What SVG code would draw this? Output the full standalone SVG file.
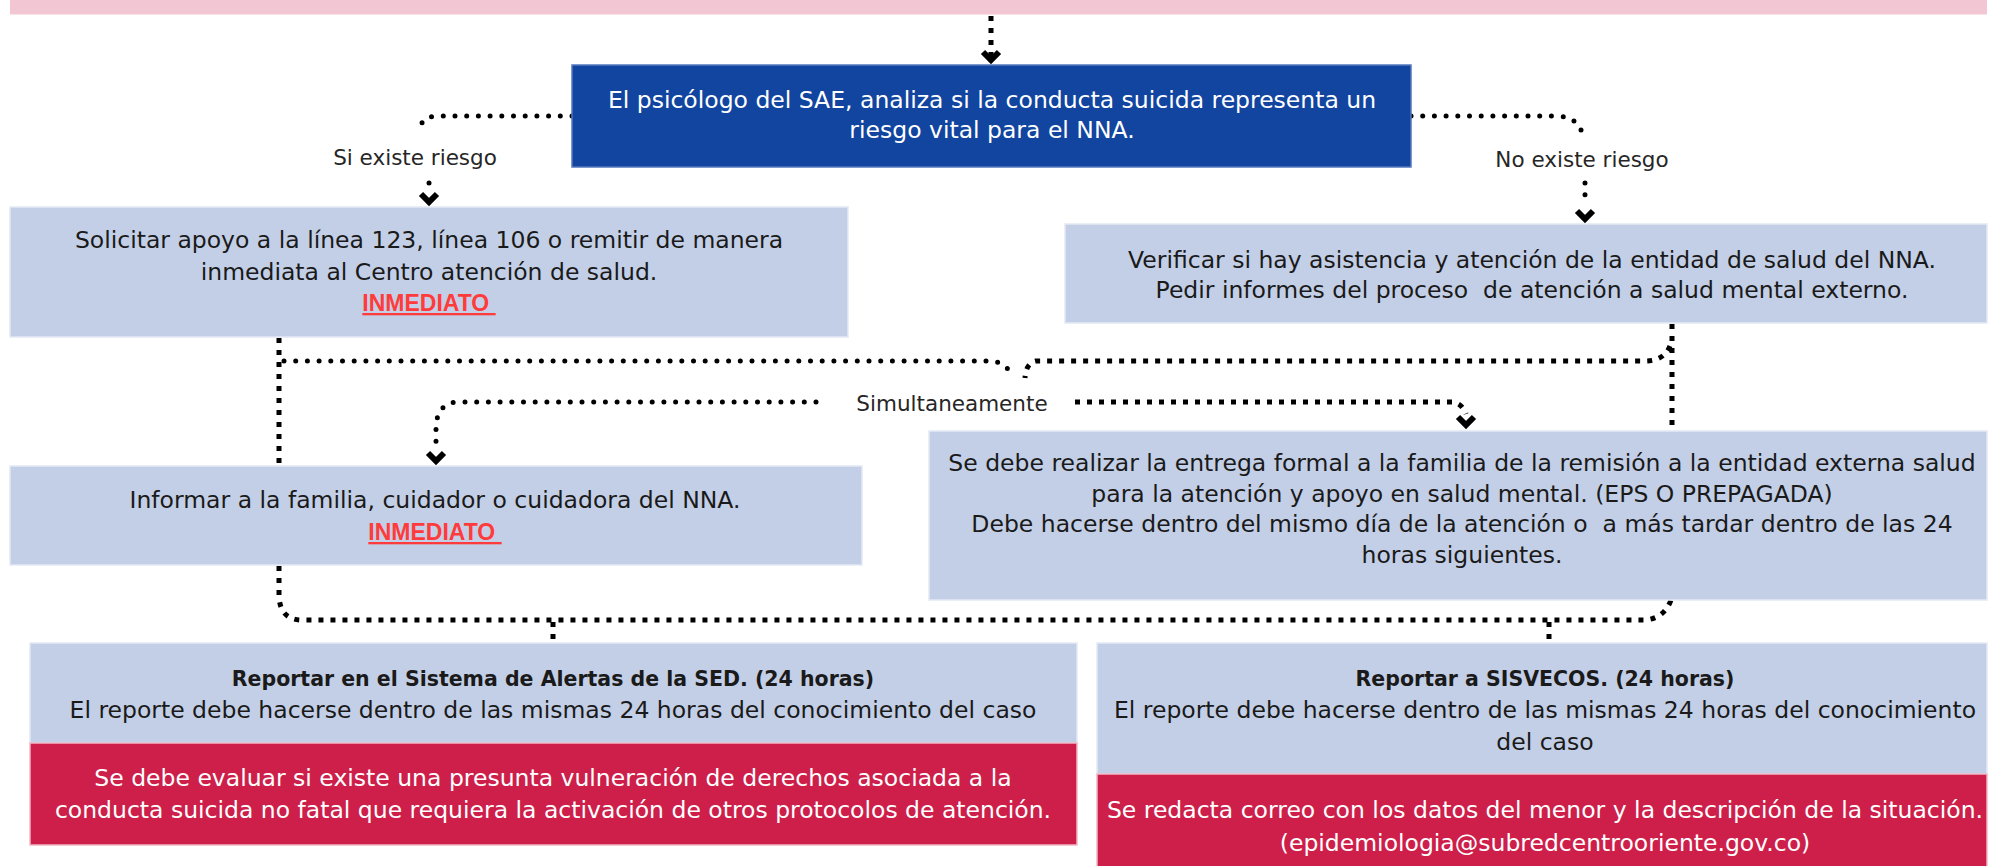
<svg xmlns="http://www.w3.org/2000/svg" xmlns:xlink="http://www.w3.org/1999/xlink" width="1990" height="866" viewBox="0 0 1990 866">
<style>
text{font-family:"DejaVu Sans","Liberation Sans",Arial,sans-serif;font-size:23.5px;text-anchor:middle;fill:#1a1a1a}
.w{fill:#ffffff}
.b{font-weight:bold;font-size:20.5px}
.lbl{font-size:21.5px;fill:#262626}
.red{font-family:"Liberation Sans",Arial,sans-serif;font-size:23px;fill:#ff3b3b;font-weight:bold;text-decoration:underline}
.lb{fill:#c3cfe6;stroke:#e4e9f4;stroke-width:1.5}
.rd{fill:#cd1f4a;stroke:#f0b8c6;stroke-width:1.5}
.dots{fill:none;stroke:#000;stroke-width:5;stroke-linecap:round;stroke-dasharray:0 11.7}
.sq{fill:none;stroke:#000;stroke-width:5;stroke-linecap:butt;stroke-dasharray:5 7}
.chev{fill:none;stroke:#000;stroke-width:6;stroke-linejoin:miter}
</style>
<defs>
<path id="chev" class="chev" d="M-8,-12 L0,-4 L8,-12"/>
</defs>
<rect x="10" y="0" width="1977" height="14" fill="#f2c6d2"/>
<line x1="10" y1="14.5" x2="1987" y2="14.5" stroke="#f8e3e9" stroke-width="1"/>

<g id="connectors">
<path class="sq" d="M991,16 V56" stroke-dasharray="7 7"/>
<use xlink:href="#chev" x="991" y="64"/>
<path class="dots" d="M572,116 H438 Q421,116 420,130"/>
<path class="dots" d="M429,183 V190"/>
<use xlink:href="#chev" x="429" y="206"/>
<path class="dots" d="M1411,116 H1557 Q1578,117 1582,133"/>
<path class="dots" d="M1585,183 V198"/>
<use xlink:href="#chev" x="1585" y="223"/>
<path class="sq" d="M279,338 V596 Q280,620 302,620 H1644 Q1664,619 1671,600"/>
<path class="sq" d="M553,622 V640"/>
<path class="sq" d="M1549,622 V640"/>
<path class="dots" d="M284,361 H990 Q1008,362 1012,378"/>
<path class="sq" d="M1672,324 V428"/>
<path class="sq" d="M1670,346 Q1664,361 1645,361 H1036 Q1026,363 1025,378"/>
<path class="dots" d="M816,402 H456 Q437,404 436,427 V452"/>
<use xlink:href="#chev" x="436" y="465"/>
<path class="sq" d="M1075,402 H1452 Q1462,403 1466,414"/>
<use xlink:href="#chev" x="1466" y="429"/>
</g>

<g id="n-main">
<rect x="572" y="65" width="839" height="102" fill="#1145a0" stroke="#5479bd" stroke-width="1.5"/>
<text class="w" x="992" y="108">El psicólogo del SAE, analiza si la conducta suicida representa un</text>
<text class="w" x="992" y="138">riesgo vital para el NNA.</text>
</g>

<g id="l-si"><text class="lbl" x="415" y="165">Si existe riesgo</text></g>
<g id="l-no"><text class="lbl" x="1582" y="167">No existe riesgo</text></g>
<g id="l-sim"><text class="lbl" x="952" y="411">Simultaneamente</text></g>

<g id="n-solicitar">
<rect class="lb" x="10" y="207" width="838" height="130"/>
<text x="429" y="248">Solicitar apoyo a la línea 123, línea 106 o remitir de manera</text>
<text x="429" y="280">inmediata al Centro atención de salud.</text>
<text class="red" x="429" y="311" xml:space="preserve">INMEDIATO </text>
</g>

<g id="n-verificar">
<rect class="lb" x="1065" y="224" width="922" height="99"/>
<text x="1532" y="268">Verificar si hay asistencia y atención de la entidad de salud del NNA.</text>
<text x="1532" y="298" xml:space="preserve">Pedir informes del proceso  de atención a salud mental externo.</text>
</g>

<g id="n-informar">
<rect class="lb" x="10" y="466" width="852" height="99"/>
<text x="435" y="508">Informar a la familia, cuidador o cuidadora del NNA.</text>
<text class="red" x="435" y="540" xml:space="preserve">INMEDIATO </text>
</g>

<g id="n-entrega">
<rect class="lb" x="929" y="431" width="1058" height="169"/>
<text x="1462" y="471">Se debe realizar la entrega formal a la familia de la remisión a la entidad externa salud</text>
<text x="1462" y="502">para la atención y apoyo en salud mental. (EPS O PREPAGADA)</text>
<text x="1462" y="532" xml:space="preserve">Debe hacerse dentro del mismo día de la atención o  a más tardar dentro de las 24</text>
<text x="1462" y="563">horas siguientes.</text>
</g>

<g id="n-sed">
<rect class="lb" x="30" y="643" width="1047" height="100"/>
<text class="b" x="553" y="686">Reportar en el Sistema de Alertas de la SED. (24 horas)</text>
<text x="553" y="718">El reporte debe hacerse dentro de las mismas 24 horas del conocimiento del caso</text>
<rect class="rd" x="30" y="743" width="1047" height="102"/>
<text class="w" x="553" y="786">Se debe evaluar si existe una presunta vulneración de derechos asociada a la</text>
<text class="w" x="553" y="818">conducta suicida no fatal que requiera la activación de otros protocolos de atención.</text>
</g>

<g id="n-sisvecos">
<rect class="lb" x="1097" y="643" width="890" height="131"/>
<text class="b" x="1545" y="686">Reportar a SISVECOS. (24 horas)</text>
<text x="1545" y="718">El reporte debe hacerse dentro de las mismas 24 horas del conocimiento</text>
<text x="1545" y="750">del caso</text>
<rect class="rd" x="1097" y="774" width="890" height="94"/>
<text class="w" x="1545" y="818">Se redacta correo con los datos del menor y la descripción de la situación.</text>
<text class="w" x="1545" y="851">(epidemiologia@subredcentrooriente.gov.co)</text>
</g>
</svg>
